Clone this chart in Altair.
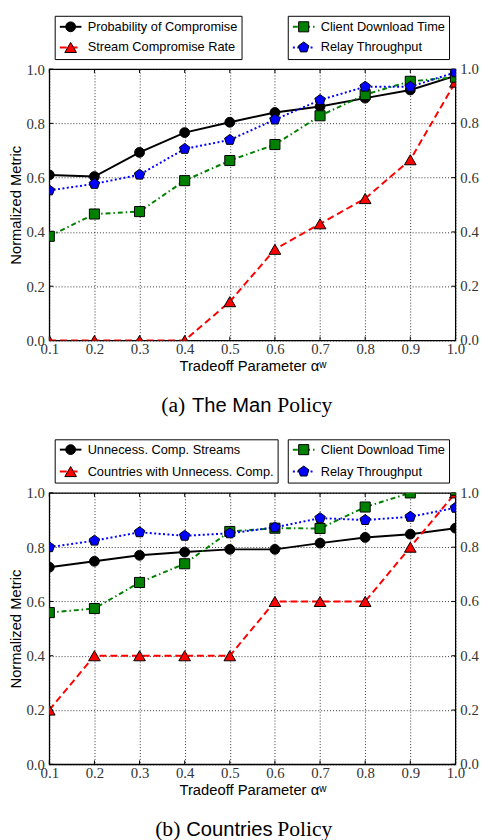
import altair as alt
import pandas as pd

# ---------------- data ----------------
x_vals = [0.1, 0.2, 0.3, 0.4, 0.5, 0.6, 0.7, 0.8, 0.9, 1.0]
y_ticks = [0.0, 0.2, 0.4, 0.6, 0.8, 1.0]
y_tick_labels = ["0.0", "0.2", "0.4", "0.6", "0.8", "1.0"]

# (a) The Man Policy
a_prob = [0.610, 0.604, 0.693, 0.766, 0.804, 0.840, 0.862, 0.893, 0.923, 0.975]
a_stream = [0.0, 0.0, 0.0, 0.0, 0.143, 0.336, 0.430, 0.523, 0.666, 0.952]
a_client = [0.384, 0.466, 0.475, 0.589, 0.663, 0.722, 0.828, 0.906, 0.955, 0.970]
a_relay = [0.553, 0.577, 0.611, 0.706, 0.739, 0.814, 0.886, 0.935, 0.935, 0.988]
a_labels = ["Probability of Compromise", "Stream Compromise Rate",
            "Client Download Time", "Relay Throughput"]

# (b) Countries Policy
b_unn = [0.726, 0.748, 0.770, 0.782, 0.792, 0.792, 0.815, 0.836, 0.848, 0.870]
b_countries = [0.2, 0.4, 0.4, 0.4, 0.4, 0.6, 0.6, 0.6, 0.8, 1.0]
b_client = [0.559, 0.574, 0.670, 0.739, 0.858, 0.870, 0.869, 0.948, 1.0, 1.01]
b_relay = [0.800, 0.824, 0.855, 0.842, 0.851, 0.873, 0.907, 0.900, 0.912, 0.945]
b_labels = ["Unnecess. Comp. Streams", "Countries with Unnecess. Comp.",
            "Client Download Time", "Relay Throughput"]

x_title = "Tradeoff Parameter \u03b1\u02b7"
y_title = "Normalized Metric"

PENTAGON = "M0,-1L0.951,-0.309L0.588,0.809L-0.588,0.809L-0.951,-0.309Z"
STYLES = [
    dict(color="#000000", dash=None, shape="circle", size=100),
    dict(color="#ff0000", dash=[7, 4], shape="triangle-up", size=140),
    dict(color="#008000", dash=[5, 3, 1.5, 3], shape="square", size=105),
    dict(color="#0000ff", dash=[2, 2.5], shape=PENTAGON, size=125),
]

W, H = 413, 276
SANS = "Liberation Sans"
SERIF = "Liberation Serif"


def line_kw(st):
    kw = dict(color=st["color"], strokeWidth=2, clip=True)
    if st["dash"] is not None:
        kw["strokeDash"] = st["dash"]
    return kw


def point_kw(st):
    return dict(shape=st["shape"], size=st["size"], filled=True, fill=st["color"],
                stroke="black", strokeWidth=1, opacity=1, fillOpacity=1, clip=True)


def panel(series, labels, box_top, rows, left_box_w, cap_parts):
    df = pd.DataFrame({"x": x_vals, "s0": series[0], "s1": series[1],
                       "s2": series[2], "s3": series[3]})
    xs = alt.Scale(domain=[0.1, 1.0], nice=False, zero=False)
    ys = alt.Scale(domain=[0.0, 1.0], nice=False)
    xaxis = alt.Axis(values=x_vals, format=".1f", title=x_title, grid=True,
                     labelFlush=False, labelOverlap=False, labelPadding=1,
                     titleY=31, titleBaseline="alphabetic")
    yleft = alt.Axis(values=y_ticks, format=".1f", title=y_title, grid=True,
                     labelFlush=False, labelOverlap=False, labelPadding=5,
                     titleX=-29, titleBaseline="alphabetic")
    base = alt.Chart(df)
    layers = []

    # inward tick marks on all four sides
    xt = alt.Chart(pd.DataFrame({"t": x_vals}))
    yt = alt.Chart(pd.DataFrame({"t": y_ticks}))
    for (a, b) in [(H, H - 4), (0, 4)]:
        layers.append(xt.mark_rule(color="black", strokeWidth=1).encode(
            x=alt.X("t:Q", scale=xs, axis=xaxis), y=alt.value(a), y2=alt.value(b)))
    for (a, b) in [(0, 4), (W, W - 4)]:
        layers.append(yt.mark_rule(color="black", strokeWidth=1).encode(
            y=alt.Y("t:Q", scale=ys, axis=yleft), x=alt.value(a), x2=alt.value(b)))

    for i, st in enumerate(STYLES):
        enc = dict(x=alt.X("x:Q", scale=xs, axis=xaxis),
                   y=alt.Y(f"s{i}:Q", scale=ys, axis=yleft))
        layers.append(base.mark_line(**line_kw(st)).encode(**enc))
        layers.append(base.mark_point(**point_kw(st)).encode(**enc))

    # mirrored tick labels on the right side
    rdf = pd.DataFrame({"v": y_ticks, "lab": y_tick_labels})
    layers.append(alt.Chart(rdf).mark_text(font=SERIF, fontSize=15, color="#333333",
                                           align="left", baseline="middle").encode(
        y=alt.Y("v:Q", scale=ys, axis=yleft), x=alt.value(W + 5), text="lab:N"))

    # legend boxes
    boxes = [(6, 6 + left_box_w), (243, 407)]
    for (x0, x1) in boxes:
        layers.append(alt.Chart(pd.DataFrame({"b": [0]})).mark_rect(
            fill="white", stroke="black", strokeWidth=1).encode(
            x=alt.value(x0), x2=alt.value(x1),
            y=alt.value(box_top), y2=alt.value(box_top + 44)))
    for i, st in enumerate(STYLES):
        col, row = i // 2, i % 2
        lx0 = 10.7 if col == 0 else 247.7
        ly = rows[row]
        ldf = pd.DataFrame({"label": [labels[i]]})
        lc = alt.Chart(ldf)
        layers.append(lc.mark_rule(**{k: v for k, v in line_kw(st).items() if k != "clip"}).encode(
            x=alt.value(lx0), x2=alt.value(lx0 + 22), y=alt.value(ly)))
        pk = point_kw(st)
        pk.pop("clip")
        layers.append(lc.mark_point(**pk).encode(x=alt.value(lx0 + 11), y=alt.value(ly)))
        layers.append(lc.mark_text(font=SANS, fontSize=13, align="left",
                                   baseline="middle", color="black").encode(
            text="label:N", x=alt.value(lx0 + 28.3), y=alt.value(ly)))

    # caption
    for (txt, font, size, align, xpos) in cap_parts:
        cdf = pd.DataFrame({"t": [txt]})
        layers.append(alt.Chart(cdf).mark_text(font=font, fontSize=size, align=align,
                                               baseline="alphabetic", color="black").encode(
            text="t:N", x=alt.value(xpos), y=alt.value(H + 73)))

    return alt.layer(*layers).properties(width=W, height=H)


pa = panel([a_prob, a_stream, a_client, a_relay], a_labels,
           -53.7, [-43.0, -22.0], 190,
           [("(a)", SERIF, 22, "right", 138.3), ("The Man", SANS, 20.5, "left", 145),
            ("Policy", SERIF, 22, "left", 231.7)])
pb = panel([b_unn, b_countries, b_client, b_relay], b_labels,
           -54.0, [-44.0, -21.7], 226.7,
           [("(b)", SERIF, 22, "right", 133.3), ("Countries", SANS, 20.5, "left", 139.3),
            ("Policy", SERIF, 22, "left", 231.7)])

chart = alt.vconcat(pa, pb, spacing=20, padding=0).configure_view(
    stroke="black", strokeWidth=1.3).configure_axis(
    labelFont=SERIF, labelFontSize=15, labelColor="#333333",
    titleFont=SANS, titleFontSize=15, titleFontWeight="normal", titleColor="black",
    gridColor="black", gridDash=[1, 2], gridWidth=0.8, gridOpacity=1,
    domain=False, ticks=False)

chart.save("out.html", embed_options={"renderer": "svg", "actions": False})
